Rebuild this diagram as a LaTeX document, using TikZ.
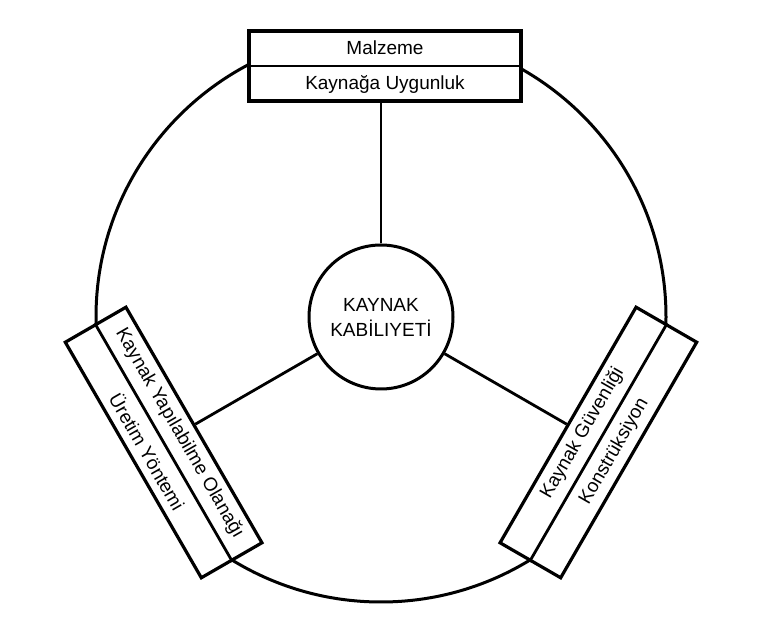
\documentclass[tikz,border=0pt]{standalone}
\usepackage{fontspec}
\setmainfont{Liberation Sans}
\usetikzlibrary{calc}
\begin{document}
\begin{tikzpicture}[x=1pt,y=1pt,
  ring/.style={line width=3pt},
  panel/.style={draw, fill=white, line width=3.2pt, minimum width=272pt,
                minimum height=70pt, inner sep=0pt},
  divider/.style={line width=2.8pt},
  spoke/.style={line width=2.8pt},
  lbl/.style={font=\fontsize{19}{22}\selectfont, inner sep=0pt}]
\useasboundingbox (0,0) rectangle (761,637);
\coordinate (c) at (381,320);

% outer ring
\draw[ring] (c) circle (285);

% centre disc
\node[draw, circle, line width=3pt, minimum size=144pt, inner sep=0pt,
      align=center, font=\fontsize{19}{25}\selectfont] (core) at (c)
      {KAYNAK\\KABİLIYETİ};

% three two-row panels on the ring
\node[panel, xshift=4pt] (top) at ($(c)+(90:251)$) {};
\node[panel, rotate=-60] (left) at ($(c)+(210:251)$) {};
\node[panel, rotate=60] (right) at ($(c)+(-30:251)$) {};

\draw[divider] (top.west) -- (top.east);
\draw[divider] (left.west) -- (left.east);
\draw[divider] (right.west) -- (right.east);

% panel labels
\node[lbl] (topA) at ($(top.center)!0.5!(top.north)$) {Malzeme};
\node[lbl] (topB) at ($(top.center)!0.5!(top.south)$) {Kaynağa Uygunluk};
\node[lbl, rotate=-60] (leftA) at ($(left.center)!0.5!(left.north)$) {Kaynak Yapılabilme Olanağı};
\node[lbl, rotate=-60] (leftB) at ($(left.center)!0.5!(left.south)$) {Üretim Yöntemi};
\node[lbl, rotate=60] (rightA) at ($(right.center)!0.5!(right.north)$) {Kaynak Güvenliği};
\node[lbl, rotate=60] (rightB) at ($(right.center)!0.5!(right.south)$) {Konstrüksiyon};

% spokes
\draw[spoke] (core) -- (core |- top.south);
\draw[spoke] (core) -- (left);
\draw[spoke] (core) -- (right);
\end{tikzpicture}
\end{document}
